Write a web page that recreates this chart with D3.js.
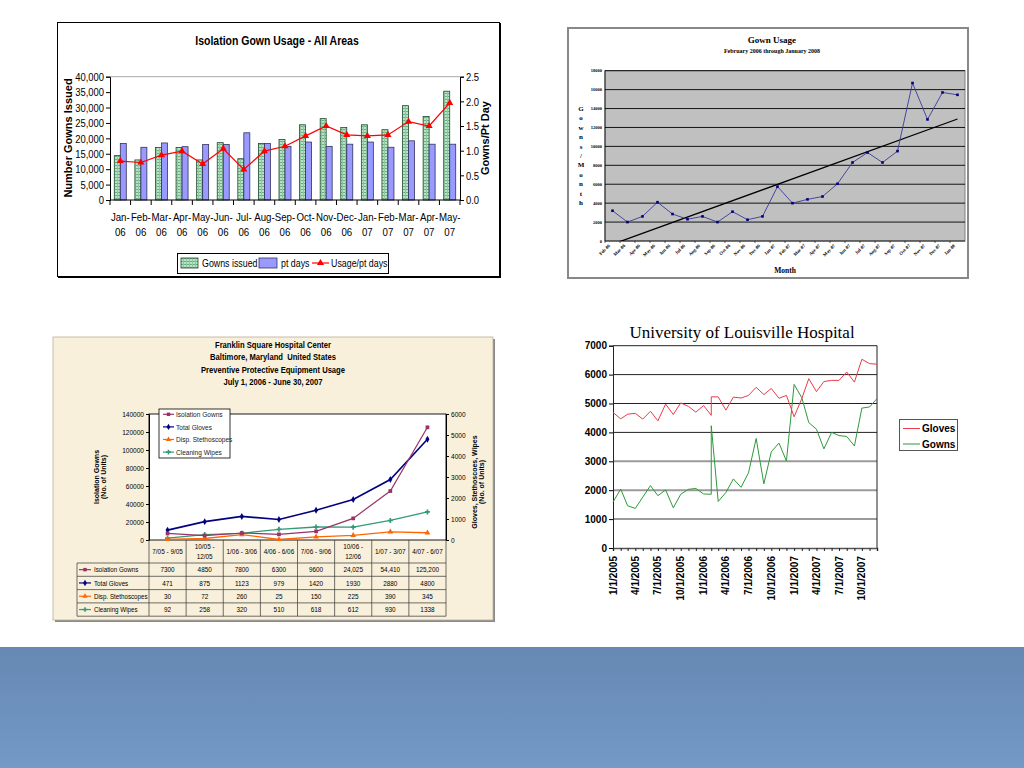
<!DOCTYPE html>
<html><head><meta charset="utf-8">
<script src="https://cdn.jsdelivr.net/npm/d3@7"></script>
<style>body{margin:0;background:#fff}svg{display:block}</style>
</head><body>
<svg id="c" width="1024" height="768"></svg>
<script>
// ---------- DATA ----------
// Chart 1: Isolation Gown Usage - All Areas
const c1Months = ["Jan-06","Feb-06","Mar-06","Apr-06","May-06","Jun-06","Jul-06","Aug-06","Sep-06","Oct-06","Nov-06","Dec-06","Jan-07","Feb-07","Mar-07","Apr-07","May-07"];
const c1Gowns  = [14400,13000,17000,17000,13000,18600,13400,18300,19600,24400,26400,23500,24400,22800,30600,27100,35300];
const c1PtDays = [18300,17100,18500,17300,18000,18000,21800,18300,17400,18800,17400,18100,18800,17100,19200,18100,18100];
const c1Usage  = [0.79,0.76,0.91,0.99,0.73,1.04,0.62,0.99,1.09,1.30,1.50,1.32,1.30,1.32,1.59,1.50,1.97];
const c1LeftTicks = [0,5000,10000,15000,20000,25000,30000,35000,40000];
const c1RightTicks = [0,0.5,1.0,1.5,2.0,2.5];

// Chart 2: Gown Usage Feb 2006 - Jan 2008
const c2Months = ["Feb-06","Mar-06","Apr-06","May-06","Jun-06","Jul-06","Aug-06","Sep-06","Oct-06","Nov-06","Dec-06","Jan-07","Feb-07","Mar-07","Apr-07","May-07","Jun-07","Jul-07","Aug-07","Sep-07","Oct-07","Nov-07","Dec-07","Jan-08"];
const c2Gowns  = [3200,2000,2600,4100,2850,2300,2600,2000,3100,2250,2600,5750,4000,4400,4700,6050,8300,9350,8300,9500,16700,12850,15700,15450];
const c2Ticks  = [0,2000,4000,6000,8000,10000,12000,14000,16000,18000];

// Chart 3: Franklin Square Hospital Center
const c3Periods = ["7/05 - 9/05","10/05 - 12/05","1/06 - 3/06","4/06 - 6/06","7/06 - 9/06","10/06 - 12/06","1/07 - 3/07","4/07 - 6/07"];
const c3Gowns  = [7300,4850,7800,6300,9600,24025,54410,125200];
const c3Gloves = [471,875,1123,979,1420,1930,2880,4800];
const c3Scopes = [30,72,260,25,150,225,390,345];
const c3Wipes  = [92,258,320,510,618,612,930,1338];
const c3LeftTicks = [0,20000,40000,60000,80000,100000,120000,140000];
const c3RightTicks = [0,1000,2000,3000,4000,5000,6000];

// Chart 4: University of Louisville Hospital
const c4Dates = ["1/1/2005","2/1/2005","3/1/2005","4/1/2005","5/1/2005","6/1/2005","7/1/2005","8/1/2005","9/1/2005","10/1/2005","11/1/2005","12/1/2005",
  "1/1/2006","2/1/2006","2/1/2006","3/1/2006","4/1/2006","5/1/2006","6/1/2006","7/1/2006","8/1/2006","9/1/2006","10/1/2006","11/1/2006","12/1/2006",
  "1/1/2007","2/1/2007","3/1/2007","4/1/2007","5/1/2007","6/1/2007","7/1/2007","8/1/2007","9/1/2007","10/1/2007","11/1/2007","12/1/2007"];
const c4Gloves = [4690,4470,4630,4660,4460,4730,4400,4980,4620,5020,4900,4700,
  4930,4590,5230,5230,4770,5220,5190,5280,5560,5310,5520,5180,5280,
  4540,5170,5860,5410,5760,5800,5800,6090,5740,6530,6380,6360];
const c4Gowns  = [1590,2040,1460,1370,1760,2160,1810,2010,1390,1860,2030,2060,
  1870,1860,4230,1610,1920,2390,2100,2600,3790,2220,3330,3630,3010,
  5660,5200,4340,4110,3430,4000,3890,3860,3530,4840,4880,5170];
const c4Ticks = [0,1000,2000,3000,4000,5000,6000,7000];
const c4LabelDates = ["1/1/2005","4/1/2005","7/1/2005","10/1/2005","1/1/2006","4/1/2006","7/1/2006","10/1/2006","1/1/2007","4/1/2007","7/1/2007","10/1/2007"];

// ---------- DRAW ----------
const SANS = "'Liberation Sans',Arial,sans-serif";
const SERIF = "'Liberation Serif','Times New Roman',serif";
const NX = 0.82; // horizontal squeeze to imitate a narrow face
const svg = d3.select("#c");
const defs = svg.append("defs");

function ntext(g, x, y, str, size, opts) {
  opts = opts || {};
  const t = g.append("text").attr("transform",`translate(${x},${y}) scale(${NX},1)`)
    .attr("text-anchor",opts.anchor||"start").attr("font-family",SANS).attr("font-size",size).attr("fill",opts.fill||"#000");
  if (opts.bold) t.attr("font-weight","bold");
  t.attr("xml:space","preserve").text(str);
  return t;
}
function narrowAxis(a, size) {
  a.selectAll("text").each(function(){
    const t = d3.select(this); const xx = +t.attr("x") || 0;
    t.attr("x", xx/NX).attr("transform",`scale(${NX},1)`).attr("font-family",SANS).attr("font-size",size).attr("fill","#000");
  });
}

// bottom band
const band = defs.append("linearGradient").attr("id","band").attr("x1",0).attr("y1",0).attr("x2",0).attr("y2",1);
band.append("stop").attr("offset","0%").attr("stop-color","#6688b3");
band.append("stop").attr("offset","100%").attr("stop-color","#7499c6");
svg.append("rect").attr("x",0).attr("y",647).attr("width",1024).attr("height",121).attr("fill","url(#band)");

// green hatch pattern
const pat = defs.append("pattern").attr("id","gpat").attr("patternUnits","userSpaceOnUse").attr("width",3).attr("height",3);
pat.append("rect").attr("width",3).attr("height",3).attr("fill","#b9e3c6");
pat.append("rect").attr("width",3).attr("height",1).attr("fill","#6fae85");
pat.append("rect").attr("width",1).attr("height",3).attr("fill","#8fc7a0");

// ===== Chart 1 =====
(function(){
  const g = svg.append("g");
  g.append("rect").attr("x",57.5).attr("y",22.5).attr("width",442).attr("height",254).attr("fill","#fff").attr("stroke","#000").attr("stroke-width",1);
  g.append("line").attr("x1",500).attr("x2",500).attr("y1",23).attr("y2",278).attr("stroke","#000").attr("stroke-width",2);
  g.append("line").attr("x1",58).attr("x2",501).attr("y1",277).attr("y2",277).attr("stroke","#000").attr("stroke-width",2);
  ntext(g,277,45,"Isolation Gown Usage - All Areas",12.8,{anchor:"middle",bold:true});

  const L=110,R=460,T=76.7,B=200;
  const x = d3.scaleBand().domain(c1Months).range([L,R]);
  const yL = d3.scaleLinear().domain([0,40000]).range([B,T]);
  const yR = d3.scaleLinear().domain([0,2.5]).range([B,T]);
  g.append("line").attr("x1",L).attr("x2",R).attr("y1",T).attr("y2",T).attr("stroke","#aaa");

  const bw = 6;
  g.selectAll("rect.gw").data(c1Gowns).join("rect").attr("class","gw")
    .attr("x",(d,i)=>x(c1Months[i])+x.bandwidth()/2-bw).attr("y",d=>yL(d))
    .attr("width",bw).attr("height",d=>B-yL(d)).attr("fill","url(#gpat)").attr("stroke","#1c4a2c").attr("stroke-width",0.8);
  g.selectAll("rect.pt").data(c1PtDays).join("rect").attr("class","pt")
    .attr("x",(d,i)=>x(c1Months[i])+x.bandwidth()/2).attr("y",d=>yL(d))
    .attr("width",bw).attr("height",d=>B-yL(d)).attr("fill","#9999ff").attr("stroke","#33335a").attr("stroke-width",0.8);

  const line = d3.line().x((d,i)=>x(c1Months[i])+x.bandwidth()/2).y(d=>yR(d));
  g.append("path").datum(c1Usage).attr("d",line).attr("fill","none").attr("stroke","#ff0000").attr("stroke-width",1.2);
  const tri = d3.symbol().type(d3.symbolTriangle).size(22);
  g.selectAll("path.tri").data(c1Usage).join("path").attr("class","tri").attr("d",tri)
    .attr("transform",(d,i)=>`translate(${x(c1Months[i])+x.bandwidth()/2},${yR(d)})`).attr("fill","#ff0000");

  const ax = g.append("g").attr("transform",`translate(${L},0)`)
    .call(d3.axisLeft(yL).tickValues(c1LeftTicks).tickFormat(d3.format(",")).tickSize(4).tickPadding(2));
  const axr = g.append("g").attr("transform",`translate(${R},0)`)
    .call(d3.axisRight(yR).tickValues(c1RightTicks).tickFormat(d3.format(".1f")).tickSize(4).tickPadding(2));
  [ax,axr].forEach(a=>{a.select(".domain").attr("stroke","#000"); narrowAxis(a,11.5);});
  g.append("line").attr("x1",L).attr("x2",R).attr("y1",B).attr("y2",B).attr("stroke","#000");
  c1Months.forEach((m,i)=>{
    const xb = x(m);
    g.append("line").attr("x1",xb).attr("x2",xb).attr("y1",B).attr("y2",B+5).attr("stroke","#000");
    const parts = m.split("-");
    ntext(g,xb+x.bandwidth()/2,221,parts[0]+"-",11.8,{anchor:"middle"});
    ntext(g,xb+x.bandwidth()/2,236,parts[1],11.8,{anchor:"middle"});
  });
  g.append("line").attr("x1",R).attr("x2",R).attr("y1",B).attr("y2",B+5).attr("stroke","#000");

  g.append("text").attr("transform","translate(72,138) rotate(-90)").attr("text-anchor","middle").attr("font-family",SANS).attr("font-weight","bold").attr("font-size",11).text("Number Gowns Issued");
  g.append("text").attr("transform","translate(489,138) rotate(-90)").attr("text-anchor","middle").attr("font-family",SANS).attr("font-weight","bold").attr("font-size",11).text("Gowns/Pt Day");

  // legend
  g.append("rect").attr("x",177.5).attr("y",253.5).attr("width",211).attr("height",20).attr("fill","#fff").attr("stroke","#000");
  g.append("rect").attr("x",181).attr("y",258).attr("width",17).attr("height",10).attr("fill","url(#gpat)").attr("stroke","#1c4a2c").attr("stroke-width",0.8);
  ntext(g,202,267,"Gowns issued",10.8);
  g.append("rect").attr("x",259).attr("y",258).attr("width",18).attr("height",10).attr("fill","#9999ff").attr("stroke","#33335a").attr("stroke-width",0.8);
  ntext(g,281,267,"pt days",10.8);
  g.append("line").attr("x1",312).attr("x2",329).attr("y1",263).attr("y2",263).attr("stroke","#ff0000").attr("stroke-width",1.2);
  g.append("path").attr("d",tri).attr("transform","translate(320.5,263)").attr("fill","#ff0000");
  ntext(g,331,267,"Usage/pt days",10.8);
})();

// ===== Chart 2 =====
(function(){
  const g = svg.append("g");
  g.append("rect").attr("x",568).attr("y",28).attr("width",400).attr("height",250).attr("fill","#fff").attr("stroke","#888").attr("stroke-width",2);
  g.append("text").attr("x",772).attr("y",43).attr("text-anchor","middle").attr("font-family",SERIF).attr("font-weight","bold").attr("font-size",9).text("Gown Usage");
  g.append("text").attr("x",772).attr("y",52.5).attr("text-anchor","middle").attr("font-family",SERIF).attr("font-weight","bold").attr("font-size",6).text("February 2006 through January 2008");

  const L=605,R=965,T=70.7,B=241;
  const x = d3.scaleBand().domain(c2Months).range([L,R]);
  const y = d3.scaleLinear().domain([0,18000]).range([B,T]);
  g.append("rect").attr("x",L).attr("y",T).attr("width",R-L).attr("height",B-T).attr("fill","#c0c0c0").attr("stroke","#808080");
  g.selectAll("line.gr").data(c2Ticks.filter(d=>d>0)).join("line").attr("class","gr")
    .attr("x1",L).attr("x2",R).attr("y1",d=>y(d)).attr("y2",d=>y(d)).attr("stroke","#000").attr("stroke-width",0.9);
  g.append("line").attr("x1",L).attr("x2",L).attr("y1",T).attr("y2",B).attr("stroke","#000").attr("stroke-width",0.8);
  g.append("line").attr("x1",L).attr("x2",R).attr("y1",B).attr("y2",B).attr("stroke","#000").attr("stroke-width",0.8);
  g.selectAll("text.yt").data(c2Ticks).join("text").attr("class","yt")
    .attr("x",L-3).attr("y",d=>y(d)+1.5).attr("text-anchor","end").attr("font-family",SERIF).attr("font-weight","bold").attr("font-size",4.5).text(d=>d);
  c2Months.forEach((m,i)=>{
    g.append("line").attr("x1",x(m)).attr("x2",x(m)).attr("y1",B).attr("y2",B+2).attr("stroke","#000").attr("stroke-width",0.6);
    g.append("text").attr("transform",`translate(${x(m)+x.bandwidth()/2-2},${B+5}) rotate(-45)`).attr("text-anchor","end")
      .attr("font-family",SERIF).attr("font-weight","bold").attr("font-size",4.6).text(m);
  });
  // linear trendline (least squares on the data)
  const n = c2Gowns.length, xs = d3.range(1,n+1);
  const mx = d3.mean(xs), my = d3.mean(c2Gowns);
  const slope = d3.sum(xs,(v,i)=>(v-mx)*(c2Gowns[i]-my))/d3.sum(xs,v=>(v-mx)*(v-mx));
  const icpt = my - slope*mx;
  const xi = k => L + x.bandwidth()*(k-0.5);
  defs.append("clipPath").attr("id","clip2").append("rect").attr("x",L).attr("y",T).attr("width",R-L).attr("height",B-T);
  g.append("line").attr("clip-path","url(#clip2)").attr("x1",xi(1)).attr("y1",y(icpt+slope)).attr("x2",xi(n)).attr("y2",y(icpt+slope*n))
    .attr("stroke","#000").attr("stroke-width",1.3);
  const line = d3.line().x((d,i)=>x(c2Months[i])+x.bandwidth()/2).y(d=>y(d));
  g.append("path").datum(c2Gowns).attr("d",line).attr("fill","none").attr("stroke","#3a3a9a").attr("stroke-width",0.9);
  g.selectAll("rect.mk").data(c2Gowns).join("rect").attr("class","mk")
    .attr("x",(d,i)=>x(c2Months[i])+x.bandwidth()/2-1.3).attr("y",d=>y(d)-1.3).attr("width",2.6).attr("height",2.6).attr("fill","#000080");
  const letters = "Gowns/Month".split("");
  letters.forEach((c,i)=>{
    g.append("text").attr("x",581).attr("y",111+i*9.4).attr("text-anchor","middle").attr("font-family",SERIF).attr("font-weight","bold").attr("font-size",7).text(c);
  });
  g.append("text").attr("x",785).attr("y",273).attr("text-anchor","middle").attr("font-family",SERIF).attr("font-weight","bold").attr("font-size",7.5).text("Month");
})();

// ===== Chart 3 =====
(function(){
  const g = svg.append("g");
  g.append("rect").attr("x",55).attr("y",339).attr("width",440).attr("height",283).attr("fill","#8a8a8a");
  g.append("rect").attr("x",53).attr("y",337).attr("width",440).attr("height",283).attr("fill","#f8f0db").attr("stroke","#b9b09a").attr("stroke-width",0.8);
  const titles = ["Franklin Square Hospital Center","Baltimore, Maryland  United States","Preventive Protective Equipment Usage","July 1, 2006 - June 30, 2007"];
  titles.forEach((t,i)=>ntext(g,273,347.5+i*12.5,t,9.3,{anchor:"middle",bold:true}));

  const L=149,R=446,T=414,B=540;
  const x = d3.scaleBand().domain(c3Periods).range([L,R]);
  const yL = d3.scaleLinear().domain([0,140000]).range([B,T]);
  const yR = d3.scaleLinear().domain([0,6000]).range([B,T]);
  g.append("rect").attr("x",L).attr("y",T).attr("width",R-L).attr("height",B-T).attr("fill","#fff").attr("stroke","#000").attr("stroke-width",0.9);
  const al = g.append("g").attr("transform",`translate(${L},0)`).call(d3.axisLeft(yL).tickValues(c3LeftTicks).tickFormat(d3.format("d")).tickSize(3).tickPadding(2));
  const ar = g.append("g").attr("transform",`translate(${R},0)`).call(d3.axisRight(yR).tickValues(c3RightTicks).tickFormat(d3.format("d")).tickSize(3).tickPadding(2));
  [al,ar].forEach(a=>{a.select(".domain").attr("stroke","#000"); narrowAxis(a,8);});

  const series = [
    {name:"Isolation Gowns", values:c3Gowns, scale:yL, color:"#993366", sym:d3.symbolSquare, w:1.2},
    {name:"Total Gloves", values:c3Gloves, scale:yR, color:"#000080", sym:d3.symbolDiamond, w:1.6},
    {name:"Disp. Stethoscopes", values:c3Scopes, scale:yR, color:"#ff6600", sym:d3.symbolTriangle, w:1.3},
    {name:"Cleaning Wipes", values:c3Wipes, scale:yR, color:"#339977", sym:d3.symbolCross, w:1.3}
  ];
  const cx = i => x(c3Periods[i]) + x.bandwidth()/2;
  series.slice().reverse().forEach(s=>{
    g.append("path").datum(s.values).attr("d",d3.line().x((d,i)=>cx(i)).y(d=>s.scale(d))).attr("fill","none").attr("stroke",s.color).attr("stroke-width",s.w);
    g.selectAll(null).data(s.values).join("path").attr("d",d3.symbol().type(s.sym).size(14))
      .attr("transform",(d,i)=>`translate(${cx(i)},${s.scale(d)})`).attr("fill",s.color);
  });
  // legend
  g.append("rect").attr("x",159).attr("y",409).attr("width",71).attr("height",49).attr("fill","#fff").attr("stroke","#000").attr("stroke-width",0.8);
  series.forEach((s,i)=>{
    const yy = 414.3 + i*12.6;
    g.append("line").attr("x1",163).attr("x2",174).attr("y1",yy).attr("y2",yy).attr("stroke",s.color).attr("stroke-width",1.2);
    g.append("path").attr("d",d3.symbol().type(s.sym).size(12)).attr("transform",`translate(168.5,${yy})`).attr("fill",s.color);
    ntext(g,176,yy+2.8,s.name,8,{fill:"#222"});
  });
  // axis titles
  g.append("text").attr("transform","translate(99,477) rotate(-90)").attr("text-anchor","middle").attr("font-family",SANS).attr("font-weight","bold").attr("font-size",7).text("Isolation Gowns");
  g.append("text").attr("transform","translate(106,477) rotate(-90)").attr("text-anchor","middle").attr("font-family",SANS).attr("font-weight","bold").attr("font-size",7).text("(No. of Units)");
  g.append("text").attr("transform","translate(477,482) rotate(-90)").attr("text-anchor","middle").attr("font-family",SANS).attr("font-weight","bold").attr("font-size",7).text("Gloves, Stethoscoes, Wipes");
  g.append("text").attr("transform","translate(484,482) rotate(-90)").attr("text-anchor","middle").attr("font-family",SANS).attr("font-weight","bold").attr("font-size",7).text("(No. of Units)");

  // data table
  const rowH = 13.3, hdrB = 563;
  const st = "#333";
  c3Periods.forEach((p,i)=>{
    g.append("line").attr("x1",x(p)).attr("x2",x(p)).attr("y1",B).attr("y2",hdrB+4*rowH).attr("stroke",st).attr("stroke-width",0.7);
    const c = cx(i);
    if (p.length > 11) {
      const parts = p.split(" - ");
      ntext(g,c,548.5,parts[0]+" -",7.8,{anchor:"middle"});
      ntext(g,c,558.5,parts[1],7.8,{anchor:"middle"});
    } else {
      ntext(g,c,554,p,7.8,{anchor:"middle"});
    }
  });
  g.append("line").attr("x1",R).attr("x2",R).attr("y1",B).attr("y2",hdrB+4*rowH).attr("stroke",st).attr("stroke-width",0.7);
  g.append("line").attr("x1",77).attr("x2",77).attr("y1",hdrB).attr("y2",hdrB+4*rowH).attr("stroke",st).attr("stroke-width",0.7);
  for (let r=0;r<=4;r++) g.append("line").attr("x1",77).attr("x2",R).attr("y1",hdrB+r*rowH).attr("y2",hdrB+r*rowH).attr("stroke",st).attr("stroke-width",0.7);
  const fmt = v => v >= 10000 ? d3.format(",")(v) : String(v);
  series.forEach((s,r)=>{
    const yy = hdrB + r*rowH + rowH/2;
    g.append("line").attr("x1",79).attr("x2",91).attr("y1",yy).attr("y2",yy).attr("stroke",s.color).attr("stroke-width",1.2);
    g.append("path").attr("d",d3.symbol().type(s.sym).size(12)).attr("transform",`translate(85,${yy})`).attr("fill",s.color);
    ntext(g,94,yy+2.8,s.name,7.6);
    s.values.forEach((v,i)=>ntext(g,cx(i),yy+2.8,fmt(v),7.8,{anchor:"middle"}));
  });
})();

// ===== Chart 4 =====
(function(){
  const g = svg.append("g");
  const parse = d3.timeParse("%m/%d/%Y");
  const dates = c4Dates.map(parse);
  const L=613,R=877,T=345.7,B=548;
  const x = d3.scaleTime().domain([parse("1/1/2005"),parse("12/1/2007")]).range([L,R]);
  const y = d3.scaleLinear().domain([0,7000]).range([B,T]);
  g.append("text").attr("x",742).attr("y",338).attr("text-anchor","middle").attr("font-family",SERIF).attr("font-size",17).text("University of Louisville Hospital");
  c4Ticks.filter(d=>d>0 && d<7000).forEach(d=>{
    g.append("line").attr("x1",L).attr("x2",R).attr("y1",y(d)).attr("y2",y(d))
      .attr("stroke",d>=4000?"#222":"#9a9a9a").attr("stroke-width",d>=4000?1:2);
  });
  g.append("line").attr("x1",L).attr("x2",R).attr("y1",T).attr("y2",T).attr("stroke","#222").attr("stroke-width",1);
  g.append("line").attr("x1",R).attr("x2",R).attr("y1",T).attr("y2",B).attr("stroke","#222").attr("stroke-width",1);
  const ay = g.append("g").attr("transform",`translate(${L},0)`).call(d3.axisLeft(y).tickValues(c4Ticks).tickFormat(d3.format("d")).tickSize(4).tickPadding(2));
  ay.select(".domain").attr("stroke","#222");
  ay.selectAll("text").attr("font-family",SANS).attr("font-weight","bold").attr("font-size",10).attr("fill","#000");
  const ax = g.append("g").attr("transform",`translate(0,${B})`).call(d3.axisBottom(x).ticks(d3.timeMonth.every(1)).tickFormat("").tickSize(3));
  ax.select(".domain").attr("stroke","#555").attr("stroke-width",1.5);
  ax.selectAll("line").attr("stroke","#222");
  c4LabelDates.forEach(s=>{
    g.append("text").attr("transform",`translate(${x(parse(s))+3.5},${B+8}) rotate(-90)`).attr("text-anchor","end")
      .attr("font-family",SANS).attr("font-weight","bold").attr("font-size",10).text(s);
  });
  const line = v => d3.line().x((d,i)=>x(dates[i])).y(d=>y(d))(v);
  g.append("path").attr("d",line(c4Gowns)).attr("fill","none").attr("stroke","#2e9a3a").attr("stroke-width",1);
  g.append("path").attr("d",line(c4Gloves)).attr("fill","none").attr("stroke","#ec3a48").attr("stroke-width",1);
  // legend
  g.append("rect").attr("x",899.5).attr("y",419.5).attr("width",58).attr("height",31).attr("fill","#fff").attr("stroke","#555");
  g.append("line").attr("x1",903).attr("x2",920).attr("y1",428.5).attr("y2",428.5).attr("stroke","#ec3a48");
  g.append("text").attr("x",922).attr("y",432).attr("font-family",SANS).attr("font-weight","bold").attr("font-size",10).text("Gloves");
  g.append("line").attr("x1",903).attr("x2",920).attr("y1",444).attr("y2",444).attr("stroke","#2e9a3a");
  g.append("text").attr("x",922).attr("y",447.5).attr("font-family",SANS).attr("font-weight","bold").attr("font-size",10).text("Gowns");
})();
</script>
</body></html>
